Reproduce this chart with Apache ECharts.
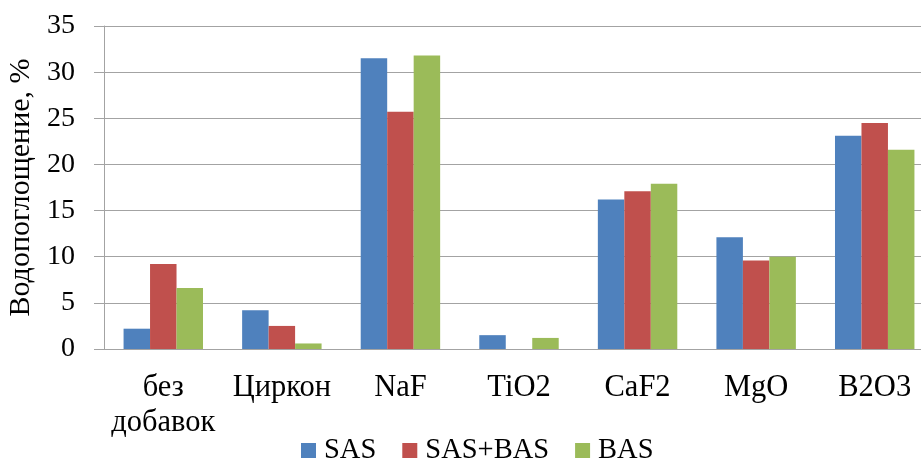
<!DOCTYPE html>
<html>
<head>
<meta charset="utf-8">
<script src="https://cdn.jsdelivr.net/npm/echarts@6/dist/echarts.min.js"></script>
<style>
  html, body { margin: 0; padding: 0; background: #fff; }
  #main { width: 921px; height: 459px; }
</style>
</head>
<body>
<div id="main"></div>
<script>
// данные с графика
var categories = ['без\nдобавок', 'Циркон', 'NaF', 'TiO2', 'CaF2', 'MgO', 'B2O3'];
var sas = [2.2, 4.2, 31.5, 1.5, 16.2, 12.1, 23.1];
var sasBas = [9.2, 2.5, 25.7, 0, 17.1, 9.6, 24.5];
var bas = [6.6, 0.6, 31.8, 1.2, 17.9, 10.0, 21.6];
var yTicks = [0, 5, 10, 15, 20, 25, 30, 35];

var serif = '"Liberation Serif", "Times New Roman", serif';
var gray = '#a3a3a3';

var myChart = echarts.init(document.getElementById('main'));

var option = {
  animation: false,
  color: ['#4F81BD', '#C0504D', '#9BBB59'],
  legend: {
    data: ['SAS', 'SAS+BAS', 'BAS'],
    left: 296,
    top: 431,
    icon: 'rect',
    itemWidth: 15,
    itemHeight: 15,
    itemGap: 26,
    textStyle: { fontFamily: serif, fontSize: 28.5, color: '#000', padding: [0, 0, 0, 3] }
  },
  grid: {
    left: 104,
    top: 26,
    width: 830,
    height: 323,
    outerBoundsMode: 'none',
    containLabel: false
  },
  xAxis: {
    type: 'category',
    data: categories,
    axisLine: { lineStyle: { color: gray, width: 1 } },
    axisTick: { show: false },
    axisLabel: {
      interval: 0,
      margin: 21,
      fontFamily: serif,
      fontSize: 30.5,
      lineHeight: 35,
      color: '#000'
    }
  },
  yAxis: {
    type: 'value',
    min: yTicks[0],
    max: yTicks[yTicks.length - 1],
    interval: 5,
    name: 'Водопоглощение, %',
    nameLocation: 'middle',
    nameGap: 65,
    nameTextStyle: { fontFamily: serif, fontSize: 30, color: '#000' },
    axisLine: { show: true, lineStyle: { color: gray, width: 1 } },
    axisTick: { show: true, length: 10, lineStyle: { color: gray } },
    splitLine: { lineStyle: { color: gray, width: 1 } },
    axisLabel: {
      margin: 29,
      fontFamily: serif,
      fontSize: 28,
      color: '#000'
    }
  },
  series: [
    { name: 'SAS', type: 'bar', data: sas, barGap: '0%', barCategoryGap: '33%' },
    { name: 'SAS+BAS', type: 'bar', data: sasBas, barGap: '0%', barCategoryGap: '33%' },
    { name: 'BAS', type: 'bar', data: bas, barGap: '0%', barCategoryGap: '33%' }
  ]
};
myChart.setOption(option, true);
</script>
</body>
</html>
